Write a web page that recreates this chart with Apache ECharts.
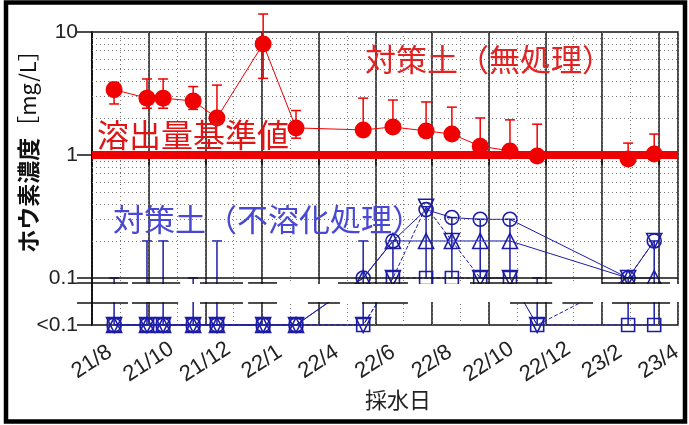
<!DOCTYPE html>
<html>
<head>
<meta charset="utf-8">
<script src="https://cdn.jsdelivr.net/npm/echarts@6/dist/echarts.min.js"></script>
<style>
  html, body { margin: 0; padding: 0; background: #fff; }
  #chart { width: 689px; height: 425px; }
</style>
</head>
<body>
<div id="chart"></div>
<script>
// Sampling dates, counted in months from 2021/8/1
const sampleMonths = [0.78, 1.94, 2.51, 3.57, 4.41, 6.04, 7.20, 9.57, 10.62, 11.79, 12.70, 13.70, 14.75, 15.71, 18.92, 19.84];

// Bottom axis labels, one every two months from 2021/8
const monthLabels = ['21/8', '21/10', '21/12', '22/1', '22/4', '22/6', '22/8', '22/10', '22/12', '23/2', '23/4'];

// Untreated soil: boron concentration (mg/L) with error bar range
const untreated     = [3.4, 2.9, 2.9, 2.75, 2.0, 8.0, 1.66, 1.6, 1.69, 1.57, 1.48, 1.18, 1.08, 0.98, 0.93, 1.02];
const untreatedHigh = [3.9, 4.15, 4.15, 3.6, 3.7, 14, 2.3, 2.9, 2.8, 2.7, 2.45, 2.0, 1.93, 1.78, 1.25, 1.48];
const untreatedLow  = [2.6, 2.4, 2.4, 2.35, null, 4.2, 1.37, null, null, null, null, null, null, null, null, null];

// Insolubilized soil, four sampling points (mg/L); '<0.1' = below detection limit
const LT = '<0.1';
const insolCircle   = [LT, LT, LT, LT, LT, LT, LT, 0.1, 0.2, 0.36, 0.31, 0.3, 0.3, null, 0.1, 0.2];
const insolTriangle = [LT, LT, LT, LT, LT, LT, LT, 0.1, 0.2, 0.2, 0.2, 0.2, 0.2, null, 0.1, 0.1];
const insolSquare   = [LT, LT, LT, LT, LT, LT, LT, LT, 0.1, 0.1, 0.1, 0.1, 0.1, LT, LT, LT];
const insolInvTri   = [LT, LT, LT, LT, LT, LT, LT, LT, 0.1, 0.38, 0.2, 0.1, 0.1, LT, 0.1, 0.2];
const insolHigh     = [0.1, 0.2, 0.2, 0.1, 0.2, null, null, 0.2, 0.2, 0.38, 0.31, 0.3, 0.3, 0.1, 0.1, 0.2];

// Vertical axis tick labels
const yTickLabels = ['10', '1', '0.1', '<0.1'];

// ---- layout constants (axis units) ----
const X_MAX = 20.68;          // months shown on the bottom axis
const LT_POS = -1.382;        // where "<0.1" sits on the log10 scale
const BREAK_TOP = -1.04;      // axis break band
const BREAK_BOTTOM = -1.203;
const yTickPos = [1, 0, -1, LT_POS];
// pieces of the two break lines, in months
const breakUpperSpans = [[-0.53, 1.27], [1.41, 3.11], [3.81, 5.33], [5.51, 6.53], [8.68, 11.15], [13.34, 16.24], [18.0, 20.4]];
const breakLowerSpans = [[-0.53, 1.27], [1.41, 3.04], [3.81, 5.33], [5.51, 6.53], [7.62, 8.75], [9.53, 11.15], [14.75, 16.24], [16.6, 17.68], [18.35, 20.4]];

const RED = '#f00000';
const BLUE = '#1c1ca6';
const CJK = '"Noto Sans CJK JP", "Noto Sans CJK SC", sans-serif';
const LATIN = '"Liberation Sans", Arial, sans-serif';

const toY = v => (v === LT ? LT_POS : Math.log10(v));

function seriesPoints(values) {
  const pts = [];
  values.forEach((v, i) => { if (v !== null) pts.push([sampleMonths[i], toY(v)]); });
  return pts;
}

// error bar data: [x, low, high, drawLowCap]
const redBars = sampleMonths.map((m, i) => [
  m,
  Math.log10(untreatedLow[i] !== null ? untreatedLow[i] : untreated[i]),
  Math.log10(untreatedHigh[i]),
  untreatedLow[i] !== null ? 1 : 0
]);

const blueBars = [];
sampleMonths.forEach((m, i) => {
  if (insolHigh[i] === null) return;
  const ys = [insolCircle, insolTriangle, insolSquare, insolInvTri]
    .map(a => a[i]).filter(v => v !== null).map(toY);
  blueBars.push([m, Math.min(...ys), Math.log10(insolHigh[i]), 0]);
});

function errorBarRenderer(color, capHalf, width) {
  return function (params, api) {
    const x = api.value(0);
    const lo = api.coord([x, api.value(1)]);
    const hi = api.coord([x, api.value(2)]);
    const st = { stroke: color, lineWidth: width };
    const children = [
      { type: 'line', shape: { x1: lo[0], y1: lo[1], x2: hi[0], y2: hi[1] }, style: st },
      { type: 'line', shape: { x1: hi[0] - capHalf, y1: hi[1], x2: hi[0] + capHalf, y2: hi[1] }, style: st }
    ];
    if (api.value(3)) {
      children.push({ type: 'line', shape: { x1: lo[0] - capHalf, y1: lo[1], x2: lo[0] + capHalf, y2: lo[1] }, style: st });
    }
    return { type: 'group', children };
  };
}

const minorGrid = [];
[2, 3, 4, 5, 6, 7, 8, 9].forEach(k => {
  minorGrid.push({ yAxis: Math.log10(k) });
  minorGrid.push({ yAxis: Math.log10(k / 10) });
});

function blueSeries(values, symbol, size, rotate, dashed) {
  return {
    type: 'line',
    data: seriesPoints(values),
    symbol: symbol,
    symbolSize: size,
    symbolRotate: rotate,
    connectNulls: true,
    z: 3,
    lineStyle: { color: BLUE, width: 1, type: dashed ? [4, 2] : 'solid' },
    itemStyle: { color: 'rgba(255,255,255,0)', borderColor: BLUE, borderWidth: 1.6 },
    emphasis: { disabled: true },
    animation: false
  };
}

const chart = echarts.init(document.getElementById('chart'), null, { renderer: 'canvas' });

chart.setOption({
  animation: false,
  backgroundColor: '#fff',
  grid: {
    left: 92, right: 11, top: 32, bottom: 100,
    show: true, borderColor: '#111', borderWidth: 1.5, backgroundColor: 'transparent'
  },
  xAxis: [
    {
      type: 'value', min: 0, max: X_MAX, interval: 2,
      axisLine: { show: false },
      axisTick: {
        show: true, length: 10, customValues: monthLabels.map((_, i) => i * 2),
        lineStyle: { color: '#111', width: 1.5 }
      },
      axisLabel: {
        customValues: monthLabels.map((_, i) => i * 2),
        formatter: v => monthLabels[Math.round(v / 2)] || '',
        rotate: 33, align: 'center', verticalAlign: 'middle', margin: 37,
        fontSize: 22, color: '#222', fontFamily: LATIN
      },
      splitLine: { show: true, lineStyle: { color: '#111', width: 1.5 } }
    },
    {
      type: 'value', min: 0, max: X_MAX, interval: 1,
      axisLine: { show: false }, axisTick: { show: false }, axisLabel: { show: false },
      splitLine: { show: true, lineStyle: { color: '#777', width: 1, type: [1, 3] } }
    }
  ],
  yAxis: {
    type: 'value', min: LT_POS, max: 1,
    axisLine: { show: true, lineStyle: { color: '#111', width: 1.5 } },
    axisTick: { show: true, length: 15, customValues: yTickPos, lineStyle: { color: '#111', width: 1.5 } },
    axisLabel: {
      customValues: yTickPos,
      formatter: v => {
        let best = 0;
        yTickPos.forEach((p, i) => { if (Math.abs(p - v) < Math.abs(yTickPos[best] - v)) best = i; });
        return yTickLabels[best];
      },
      margin: 14, fontSize: 21, color: '#222', fontFamily: LATIN
    },
    splitLine: { show: false }
  },
  series: [
    // minor log grid and the 0.1 boundary
    {
      type: 'line', data: [], z: 1, silent: true,
      markLine: {
        silent: true, symbol: ['none', 'none'], label: { show: false }, animation: false,
        lineStyle: { color: '#777', width: 1, type: [1, 3] },
        data: minorGrid.concat([{ yAxis: -1, lineStyle: { color: '#111', width: 1.5, type: 'solid' } }])
      }
    },
    // leaching standard (1 mg/L)
    {
      type: 'line', data: [], z: 2, silent: true,
      markLine: {
        silent: true, symbol: ['none', 'none'], label: { show: false }, animation: false,
        lineStyle: { color: '#ee0000', width: 8, type: 'solid' },
        data: [{ yAxis: 0 }]
      }
    },
    // insolubilized soil
    {
      type: 'custom', z: 3, silent: true,
      renderItem: errorBarRenderer(BLUE, 5, 1.5),
      data: blueBars, animation: false
    },
    blueSeries(insolCircle, 'circle', 14, 0, false),
    blueSeries(insolTriangle, 'triangle', 15, 0, false),
    blueSeries(insolSquare, 'rect', 13, 0, true),
    blueSeries(insolInvTri, 'triangle', 15, 180, true),
    // axis break band
    {
      type: 'custom', z: 4, silent: true, animation: false,
      renderItem: (params, api) => {
        const a = api.coord([0.08, BREAK_TOP]);
        const b = api.coord([X_MAX + 0.5, BREAK_BOTTOM]);
        return { type: 'rect', shape: { x: a[0], y: a[1] + 1, width: b[0] - a[0], height: b[1] - a[1] - 2 }, style: { fill: '#fff' } };
      },
      data: [[0, 0]]
    },
    {
      type: 'custom', z: 5, silent: true, animation: false,
      renderItem: (params, api) => {
        const p1 = api.coord([api.value(0), api.value(2)]);
        const p2 = api.coord([api.value(1), api.value(2)]);
        return { type: 'line', shape: { x1: p1[0], y1: p1[1], x2: p2[0], y2: p2[1] }, style: { stroke: '#111', lineWidth: 1.5 } };
      },
      data: breakUpperSpans.map(s => [s[0], s[1], BREAK_TOP])
        .concat(breakLowerSpans.map(s => [s[0], s[1], BREAK_BOTTOM]))
    },
    // untreated soil
    {
      type: 'custom', z: 5, silent: true, animation: false,
      renderItem: errorBarRenderer(RED, 5, 1.5),
      data: redBars
    },
    {
      type: 'line', z: 6,
      data: sampleMonths.map((m, i) => [m, Math.log10(untreated[i])]),
      symbol: 'circle', symbolSize: 17,
      lineStyle: { color: RED, width: 1 },
      itemStyle: { color: RED },
      emphasis: { disabled: true },
      animation: false
    }
  ],
  graphic: [
    {
      type: 'text', x: 365, y: 44, z: 50,
      style: { text: '対策土（無処理）', font: '31px ' + CJK, fill: '#e02424', verticalAlign: 'top' }
    },
    {
      type: 'text', x: 97, y: 119, z: 50,
      style: { text: '溶出量基準値', font: '32px ' + CJK, fill: '#e01414', verticalAlign: 'top' }
    },
    {
      type: 'text', x: 113, y: 204, z: 50,
      style: { text: '対策土（不溶化処理）', font: '31px ' + CJK, fill: '#4848d4', verticalAlign: 'top' }
    },
    {
      type: 'text', x: 28, y: 146, rotation: Math.PI / 2, z: 50,
      style: {
        text: '{a|ホウ素濃度}{b|［mg/L］}', align: 'center', verticalAlign: 'middle',
        rich: {
          a: { fontFamily: CJK, fontSize: 23, fontWeight: 'bold', fill: '#111' },
          b: { fontFamily: CJK, fontSize: 22, fill: '#111' }
        }
      }
    },
    {
      type: 'text', x: 398, y: 400, z: 50,
      style: { text: '採水日', font: '22px ' + CJK, fill: '#222', align: 'center', verticalAlign: 'middle' }
    },
    {
      type: 'rect', z: 60, silent: true,
      shape: { x: 6, y: 2.5, width: 679, height: 419 },
      style: { fill: null, stroke: '#000', lineWidth: 4.5 }
    }
  ]
});
</script>
</body>
</html>
